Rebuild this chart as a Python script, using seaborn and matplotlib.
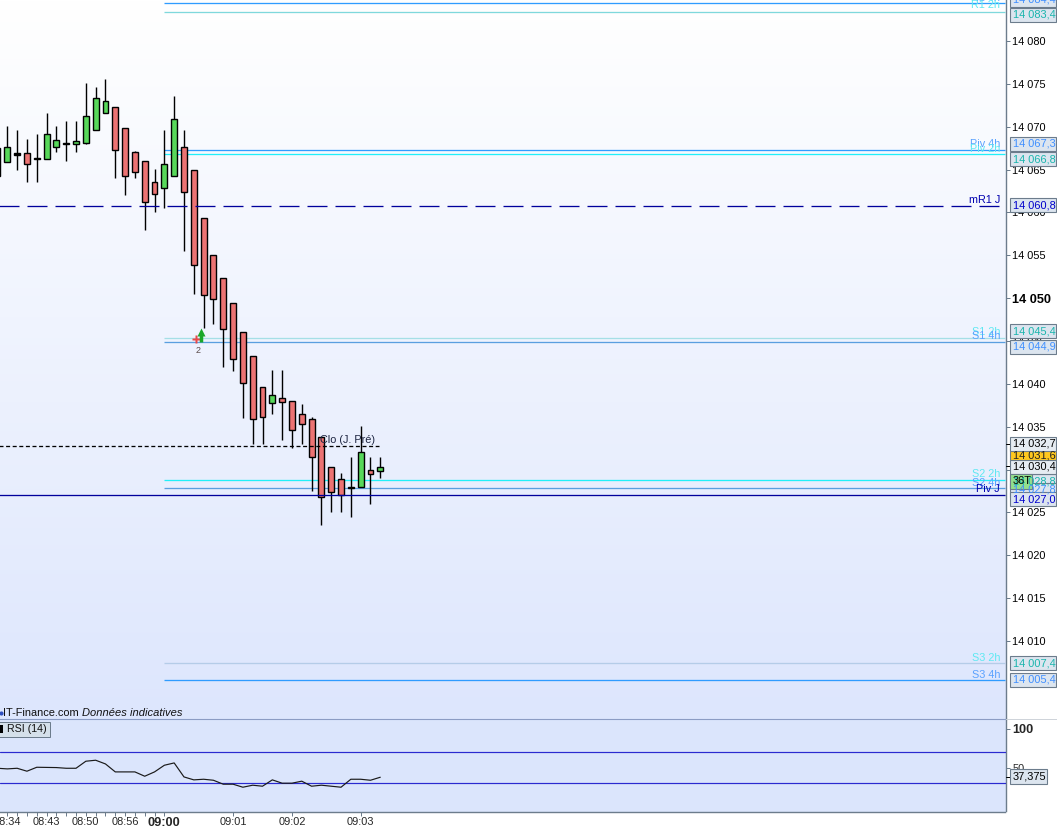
import numpy as np
import pandas as pd
import matplotlib
matplotlib.use("Agg")
import matplotlib.pyplot as plt
from matplotlib.colors import LinearSegmentedColormap
from matplotlib.patches import Rectangle
import seaborn as sns

# ---------- data ----------
opens = [14064.3,14065.9,14066.9,14066.9,14066.4,14066.25,14067.65,14068.0,14068.0,14068.1,14069.65,14071.55,
         14072.25,14069.8,14067.0,14065.95,14063.6,14062.9,14064.3,14067.6,14065.0,14059.4,14055.0,14052.4,
         14049.4,14046.1,14043.2,14039.6,14037.8,14038.3,14038.05,14036.45,14035.95,14033.75,14030.25,14028.85,
         14028.0,14028.0,14030.0,14029.8]
closes = [14067.5,14067.6,14066.7,14065.7,14066.25,14069.1,14068.4,14068.1,14068.3,14071.2,14073.3,14072.95,
          14067.3,14064.3,14064.75,14061.25,14062.2,14065.7,14070.85,14062.4,14053.9,14050.4,14049.85,14046.35,
          14042.95,14040.15,14035.95,14036.1,14038.75,14037.9,14034.65,14035.35,14031.5,14026.8,14027.4,14027.05,
          14027.85,14032.1,14029.5,14030.35]
highs = [14067.5,14070.1,14069.6,14068.55,14069.15,14071.6,14070.1,14070.65,14070.65,14075.1,14074.6,14075.55,
         14072.25,14069.8,14067.15,14065.95,14065.05,14069.6,14073.55,14069.6,14065.0,14059.4,14055.0,14052.4,
         14049.4,14046.1,14043.2,14039.6,14041.6,14041.6,14038.05,14037.65,14036.1,14033.75,14030.25,14029.55,
         14031.5,14035.05,14031.5,14031.5]
lows = [14064.3,14065.9,14065.0,14063.6,14063.6,14066.25,14067.05,14066.0,14067.05,14068.0,14069.65,14071.55,
        14064.05,14062.0,14064.05,14057.95,14060.05,14060.5,14064.3,14055.5,14050.5,14046.55,14047.0,14042.0,
        14041.55,14036.05,14033.0,14033.0,14036.45,14033.45,14032.55,14033.0,14027.5,14023.55,14025.05,14025.05,
        14024.5,14028.0,14026.0,14029.05]
doji_idx = [2, 4, 36]
rsi_values = [49.2,48.4,49.2,45.4,50.5,50.3,50.1,49.2,49.2,58.3,59.6,54.8,44.5,44.5,44.5,38.9,44.5,53.1,56.1,38.0,
              34.2,35.0,33.7,28.6,28.6,24.7,27.3,26.0,34.2,29.9,29.9,32.5,26.0,27.3,26.0,24.7,35.0,35.0,33.7,37.6]
time_ticks = list(range(1, 18)) + [24, 30, 37]
time_labels = {1: "08:34", 5: "08:43", 9: "08:50", 13: "08:56", 17: "09:00", 24: "09:01", 30: "09:02", 37: "09:03"}
price_ticks = [14080,14075,14070,14065,14060,14055,14050,14045,14040,14035,14030,14025,14020,14015,14010]
price_tick_labels = ["14 080","14 075","14 070","14 065","14 060","14 055","14 050","14 045","14 040","14 035",
                     "14 030","14 025","14 020","14 015","14 010"]
level_values = [14084.4,14083.4,14067.3,14066.8,14060.8,14045.4,14044.9,14032.7,14028.8,14027.8,14027.0,14007.4,14005.4]
level_names = ["R1 4h","R1 2h","Piv 4h","Piv 2h","mR1 J","S1 2h","S1 4h","Clo (J. Pré)","S2 2h","S2 4h","Piv J","S3 2h","S3 4h"]
rsi_levels = [70, 30]

# ---------- style ----------
sns.set_theme(style="white")
plt.rcParams["font.family"] = ["Liberation Sans", "DejaVu Sans"]
plt.rcParams["lines.scale_dashes"] = False
PX = 0.72
W, H = 1057, 826
CYAN, BLUE, NAVY = "#22f0f8", "#2f9cff", "#00009c"
TXT_C, TXT_B, TXT_N = "#19b5ad", "#3f8fff", "#0000cc"
FRAME = "#6c7c8c"

fig = plt.figure(figsize=(W / 100, H / 100), dpi=100, facecolor="white")
ax = fig.add_axes([0, 1 - 719 / H, 1005.5 / W, 719 / H])
ax2 = fig.add_axes([0, 1 - 811.5 / H, 1005.5 / W, 92.5 / H])

xlim = (0.2547, 102.7)
ylim = (14000.9, 14084.78)

# background gradient
cmap = LinearSegmentedColormap.from_list("bg", ["#ffffff", "#dde6fd"])
ax.imshow(np.linspace(0, 1, 256).reshape(-1, 1), cmap=cmap, aspect="auto",
          extent=[xlim[0], xlim[1], ylim[0], ylim[1]], origin="upper", zorder=0)
ax.set_xlim(xlim)
ax.set_ylim(ylim)
ax2.set_facecolor("#dbe5fc")

# ---------- candles ----------
df = pd.DataFrame({"open": opens, "close": closes, "high": highs, "low": lows})
df["i"] = np.arange(len(df))
df["top"] = df[["open", "close"]].max(axis=1)
df["bot"] = df[["open", "close"]].min(axis=1)
df["color"] = np.where(df["close"] >= df["open"], "#58d85a", "#ec7373")
df.loc[doji_idx, "color"] = "black"
wicks = ax.vlines(df["i"], df["low"], df["high"], color="black", lw=1.4 * PX, zorder=4)
wicks.set_snap(True)
ax.bar(df["i"], df["top"] - df["bot"], bottom=df["bot"], width=0.6, color=df["color"],
       edgecolor="black", linewidth=1.4 * PX, zorder=5)

# ---------- levels ----------
styles = {
    "R1 4h": (17, BLUE, 1.0, "-"), "R1 2h": (17, "#7fd8dc", 1.0, "-"),
    "Piv 4h": (17, BLUE, 1.0, "-"), "Piv 2h": (17, CYAN, 1.0, "-"),
    "mR1 J": (0, NAVY, 1.0, (0, (20 * PX, 8 * PX))),
    "S1 2h": (17, "#a5dfe6", 1.0, "-"), "S1 4h": (17, "#5a9fe0", 1.0, "-"),
    "Clo (J. Pré)": (0, "black", 1.0, (0, (4 * PX, 2.6 * PX))),
    "S2 2h": (17, CYAN, 1.0, "-"), "S2 4h": (17, "#5a9fe0", 1.0, "-"),
    "Piv J": (0, NAVY, 1.0, "-"),
    "S3 2h": (17, "#b5cce8", 1.0, "-"), "S3 4h": (17, BLUE, 1.0, "-"),
}
label_cols = {"2h": "#5fe8f2", "4h": "#5aa2ff", " J": "#0000b0"}
label_yoff = {"S1 4h": 0.6, "S2 4h": 0.2, "Piv J": 0.8, "R1 2h": 1.0}
for name, val in zip(level_names, level_values):
    start, col, a, ls = styles[name]
    end = 38.9 if name.startswith("Clo") else xlim[1]
    ax.plot([start, end], [val, val], color=col, lw=1.3 * PX, ls=ls, alpha=a, zorder=6 if start == 0 else 3,
            solid_capstyle="butt")
    if name.startswith("Clo"):
        ax.annotate(name, (348 / 1005.5, val), xycoords=ax.get_yaxis_transform(), xytext=(0, 0.8),
                    textcoords="offset points", ha="center", va="bottom", fontsize=7.8, color="#1c2440", zorder=8)
    else:
        ax.annotate(name, (1000 / 1005.5, val), xycoords=ax.get_yaxis_transform(),
                    xytext=(0, label_yoff.get(name, 0.4)),
                    textcoords="offset points", ha="right", va="bottom", fontsize=7.8,
                    color=label_cols[name[-2:]], zorder=7, annotation_clip=False)

# ---------- signal marker ----------
ax.plot([20.2], [14045.2], marker="P", ms=6, color="#e8484a", mec="none", zorder=7)
ax.plot([20.72], [14046.0], marker="^", ms=6, color="#1aa82a", mec="none", zorder=7)
ax.plot([20.72, 20.72], [14044.9, 14045.8], color="#1aa82a", lw=2.5, zorder=7, solid_capstyle="butt")
ax.text(20.45, 14043.9, "2", ha="center", va="center", fontsize=6.5, color="#5a4a4a", zorder=7)

# ---------- price axis ----------
ax.yaxis.tick_right()
ax.set_yticks(price_ticks)
ax.set_yticklabels(price_tick_labels)
ax.tick_params(axis="y", right=True, length=4 * PX, width=PX, color=FRAME, pad=3 * PX, labelsize=7.9,
               labelcolor="black")
for lab in ax.get_yticklabels():
    if lab.get_text() == "14 050":
        lab.set_fontweight("bold")
        lab.set_fontsize(9.2)
ax.set_xticks([])
ax.set_xlabel("")
for s in ["left", "top", "bottom"]:
    ax.spines[s].set_visible(False)
ax.spines["right"].set_color(FRAME)
ax.spines["right"].set_linewidth(1.4 * PX)

# ---------- RSI ----------
rsi_df = pd.DataFrame({"i": np.arange(len(rsi_values)), "rsi": rsi_values})
sns.lineplot(data=rsi_df, x="i", y="rsi", ax=ax2, color="#1a1a1a", lw=0.85, errorbar=None, zorder=5)
for lv in rsi_levels:
    ax2.axhline(lv, color="#2a2ad0", lw=1.2 * PX, zorder=3)
ax2.set_xlim(xlim)
ax2.set_ylim(-6.7, 112.9)
ax2.set_xlabel("")
ax2.set_ylabel("")
ax2.yaxis.tick_right()
ax2.set_yticks([100, 50])
ax2.set_yticklabels(["100", "50"])
ax2.tick_params(axis="y", right=True, length=4 * PX, width=PX, color=FRAME, pad=3 * PX, labelsize=7.9)
ax2.get_yticklabels()[0].set_fontweight("bold")
ax2.get_yticklabels()[0].set_fontsize(9.2)
ax2.set_xticks(time_ticks)
ax2.set_xticklabels([time_labels.get(t, "") for t in time_ticks])
ax2.tick_params(axis="x", bottom=True, length=3.5 * PX, width=PX, color=FRAME, pad=1.3, labelsize=7.9)
for t, lab in zip(time_ticks, ax2.get_xticklabels()):
    if time_labels.get(t) == "09:00":
        lab.set_fontweight("bold")
        lab.set_fontsize(9.2)
ax2.spines["left"].set_visible(False)
ax2.spines["top"].set_color("#8b9cc4")
ax2.spines["top"].set_linewidth(1.1 * PX)
for s in ["right", "bottom"]:
    ax2.spines[s].set_color(FRAME)
    ax2.spines[s].set_linewidth(1.4 * PX)

# ---------- panel annotations ----------
def fx(x): return x / W
def fy(y): return 1 - y / H

fig.add_artist(plt.Line2D([fx(1006), 1], [fy(719), fy(719)], color="#cfd4da", lw=PX))
fig.text(fx(3), fy(713), "IT-Finance.com", fontsize=7.9, color="#111111", va="center", ha="left", zorder=10)
fig.text(fx(82), fy(713), "Données indicatives", fontsize=8.0, style="italic", color="#111111", va="center", ha="left", zorder=10)
fig.add_artist(plt.Line2D([fx(0.5)], [fy(713)], marker="o", ms=3, color="#3050c0", mec="none"))
fig.add_artist(Rectangle((fx(-2), fy(736.5)), fx(51.5), 14.5 / H, transform=fig.transFigure, fc="#d5e0ea", ec=FRAME, lw=PX, zorder=9))
fig.add_artist(Rectangle((fx(0), fy(733)), fx(3), 8 / H, transform=fig.transFigure, fc="black", ec="none", zorder=10))
fig.text(fx(7), fy(729), "RSI (14)", fontsize=7.7, color="#111111", va="center", ha="left", zorder=10)

def box(y_center, text, col, fc="#dce5ef", x0=1010, x1=1056, h=14):
    fig.add_artist(Rectangle((fx(x0), fy(y_center + h / 2)), fx(x1 - x0), h / H, transform=fig.transFigure,
                             fc=fc, ec=FRAME, lw=1.1 * PX, zorder=9))
    fig.text(fx(x0 + 3), fy(y_center), text, color=col, fontsize=7.9, va="center", ha="left", zorder=9)

box(0, "14 084,4", TXT_B)
box(14.5, "14 083,4", TXT_C)
box(144, "14 067,3", TXT_B)
box(159, "14 066,8", TXT_C)
box(205, "14 060,8", TXT_N)
box(331, "14 045,4", TXT_C)
box(346.5, "14 044,9", TXT_B)
box(455, "14 031,6", "#222222", fc="#ffc81e")
box(481, "14 028,8", TXT_C)
box(490, "14 027,8", TXT_B)
box(444, "14 032,7", "black", fc="#e6ecf2")
box(466.5, "14 030,4", "black", fc="#e6ecf2")
box(499, "14 027,0", TXT_N)
box(481, "36T", "black", fc="#93e08c", x1=1032, h=15)
box(663, "14 007,4", TXT_C)
box(680, "14 005,4", TXT_B)
box(776.5, "37,375", "black", fc="#dce5ef", x1=1047, h=15)
for y in (444, 466.5, 776.5):
    fig.add_artist(plt.Line2D([fx(1006), fx(1010)], [fy(y), fy(y)], color="black", lw=PX, zorder=8))

fig.savefig("out.png", dpi=100, facecolor="white")
